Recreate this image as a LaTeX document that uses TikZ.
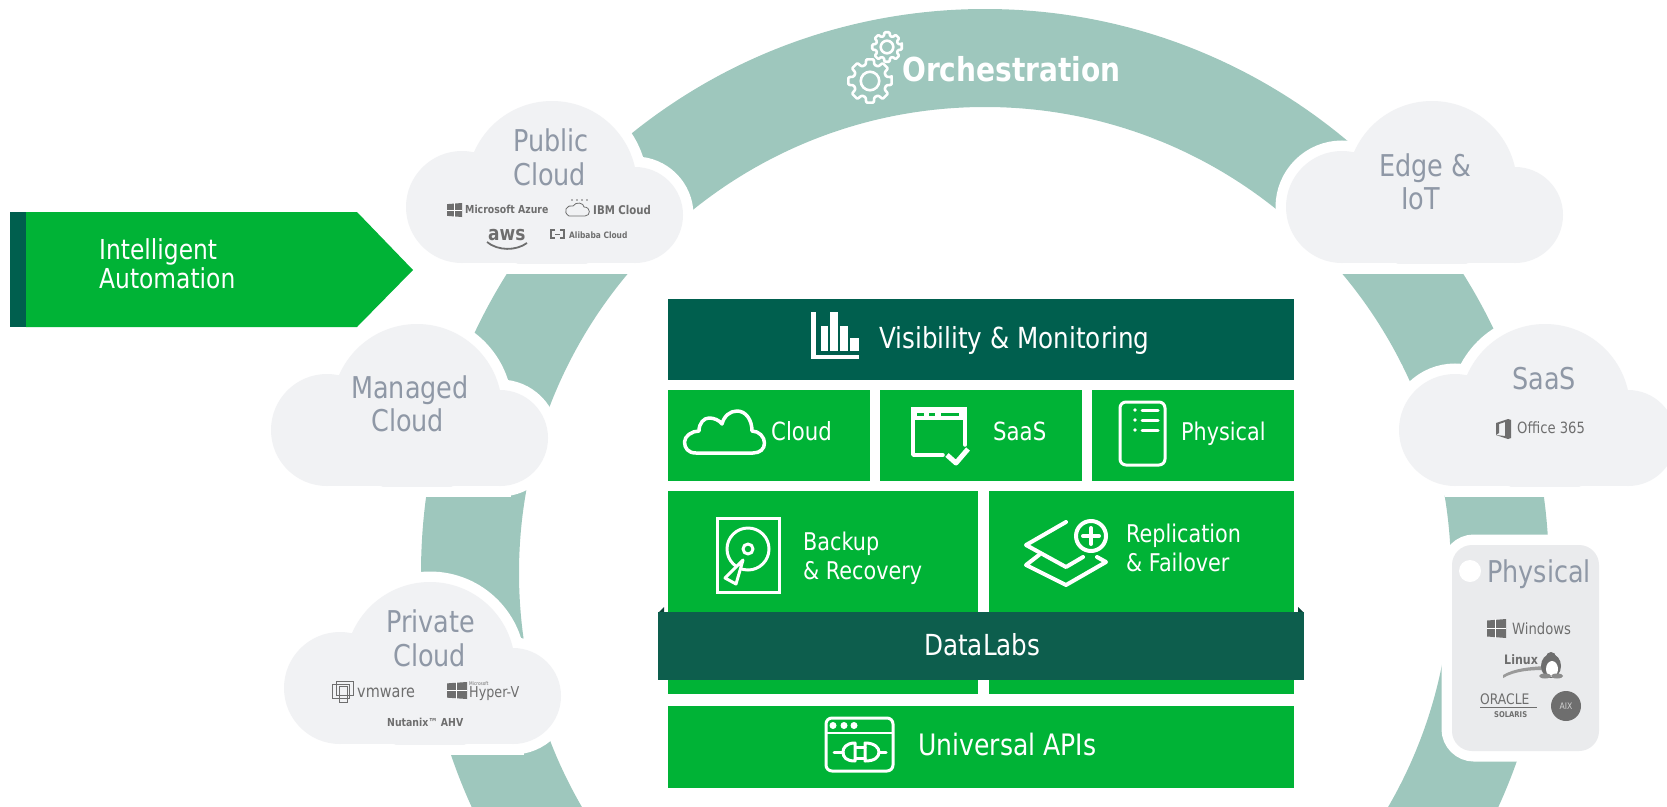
\documentclass[tikz,border=0pt]{standalone}
\usepackage{fontspec}
\setmainfont[FakeStretch=0.85]{DejaVu Sans}
\usetikzlibrary{positioning}

\definecolor{ringteal}{HTML}{9EC7BD}
\definecolor{cloudgray}{HTML}{F1F2F4}
\definecolor{cloudtext}{HTML}{8F98A6}
\definecolor{logogray}{HTML}{6E6E6E}
\definecolor{vbgreen}{HTML}{00B336}
\definecolor{vbdark}{HTML}{005F4E}
\definecolor{labdark}{HTML}{0D5E4D}

\tikzset{
  panel/.style={fill=vbgreen},
  darkpanel/.style={fill=vbdark},
  iconline/.style={draw=white, line width=3pt, line join=round, line cap=round},
  panellabel/.style={text=white, anchor=base west, inner sep=0pt, font=\fontsize{29}{29}\selectfont},
  boxlabel/.style={panellabel, font=\fontsize{24.4}{24.4}\selectfont},
  autolabel/.style={panellabel, font=\fontsize{27.5}{27.5}\selectfont},
  cloudlabel/.style={text=cloudtext, anchor=base west, inner sep=0pt, font=\fontsize{30}{30}\selectfont},
  logolabel/.style={text=logogray, anchor=base west, inner sep=0pt, font=\fontsize{11}{11}\selectfont\bfseries},
  halo/.style={draw=white, fill=white, line width=21pt},
}

\newcommand{\cloudbumps}[1]{%
  \path[#1] (56,-56) circle[radius=56];
  \path[#1] (146,-77) circle[radius=85];
  \path[#1] (229,-48) circle[radius=48];
  \path[#1] (56,-40) rectangle (229,0);}

\newcommand{\cloudblob}[2]{%
  \begin{scope}[shift={(#1,#2)}]
    \begin{scope}
      \clip (-30,-200) rectangle (320,10.5);
      \cloudbumps{halo}
    \end{scope}
    \begin{scope}
      \clip (-30,-200) rectangle (320,0);
      \cloudbumps{fill=cloudgray}
    \end{scope}
  \end{scope}}

\newcommand{\gearicon}[3]{%
  \draw[iconline, line width=2.6pt, rounded corners=1pt, shift={(#1,#2)}]
    (-10:#3) \foreach \a in {0,45,...,315} {
      -- ({\a+10}:#3) -- ({\a+15}:{0.76*#3}) -- ({\a+30}:{0.76*#3}) -- ({\a+35}:#3)
    } -- cycle;
  \draw[iconline, line width=2.6pt] (#1,#2) circle[radius={0.42*#3}];}

\newcommand{\wintile}[4]{%
  \fill[logogray] (#1,{#2+0.08*#4}) -- ({#1+#3},#2) -- ({#1+#3},{#2+#4}) -- (#1,{#2+0.92*#4}) -- cycle;
  \draw[white, line width=0.5pt] ({#1+0.45*#3},#2) -- ({#1+0.45*#3},{#2+#4});
  \draw[white, line width=0.5pt] (#1,{#2+0.5*#4}) -- ({#1+#3},{#2+0.5*#4});}

\begin{document}
\begin{tikzpicture}[x=1pt,y=-1pt]
  \useasboundingbox (0,0) rectangle (1667,806);

  \begin{scope}
    \clip (0,0) rectangle (1667,806);
    \fill[ringteal, even odd rule] (985,573) circle[radius=564] (985,573) circle[radius=466];
  \end{scope}

  \node[text=white, anchor=base west, inner sep=0pt, font=\fontsize{33}{33}\selectfont\bfseries] (orch) at (902,81) {Orchestration};
  \gearicon{870}{81}{22}
  \gearicon{887}{47}{15}

  \cloudblob{406}{263}
  \cloudblob{271}{486}
  \cloudblob{284}{744}
  \cloudblob{1286}{263}
  \cloudblob{1399}{486}

  \path[halo, rounded corners=22pt] (1452,545) rectangle (1599,751);
  \fill[cloudgray!97!black, rounded corners=20pt] (1452,545) rectangle (1599,751);
  \fill[white] (1470,571) circle[radius=11];

  \fill[vbgreen] (26,212) -- (357,212) -- (413,270) -- (357,327) -- (26,327) -- cycle;
  \fill[vbdark] (10,212) rectangle (26,327);
  \node[autolabel] (auto1) at (99,259) {Intelligent};
  \node[autolabel] (auto2) at (99,288) {Automation};

  % public cloud
  \node[cloudlabel] (pub1) at (513,151) {Public};
  \node[cloudlabel] (pub2) at (513,185) {Cloud};
  \wintile{447}{203}{15}{14}
  \node[logolabel] (azure) at (465,213) {Microsoft Azure};
  \draw[logogray, line width=0.8pt] (569,216) .. controls (562,212) and (567,204) .. (573,206) .. controls (576,201) and (584,203) .. (584,207) .. controls (591,207) and (591,216) .. (585,216) -- cycle;
  \foreach \a in {572,577,582,587} {\fill[logogray] (\a,200) circle[radius=0.9];}
  \node[logolabel, font=\fontsize{12}{12}\selectfont\bfseries] (ibm) at (593,214) {IBM Cloud};
  \node[logolabel, font=\fontsize{20}{20}\selectfont\bfseries] (aws) at (488,240) {aws};
  \draw[logogray, line width=1.8pt] (487,242) .. controls (498,251) and (516,251) .. (527,243);
  \draw[logogray, line width=2pt] (555,230) -- (551,230) -- (551,238) -- (555,238);
  \draw[logogray, line width=2pt] (560,230) -- (564,230) -- (564,238) -- (560,238);
  \draw[logogray, line width=1pt] (555,234) -- (560,234);
  \node[logolabel, font=\fontsize{8.8}{8.8}\selectfont\bfseries] (ali) at (569,238) {Alibaba Cloud};

  % managed cloud
  \node[cloudlabel] (man1) at (351,398) {Managed};
  \node[cloudlabel] (man2) at (371,431) {Cloud};

  % private cloud
  \node[cloudlabel] (pri1) at (386,632) {Private};
  \node[cloudlabel] (pri2) at (393,666) {Cloud};
  \draw[logogray, line width=0.8pt] (332,684) rectangle (349,698);
  \draw[logogray, line width=0.8pt] (336,681) rectangle (353,695);
  \draw[logogray, line width=0.8pt] (339,686) rectangle (347,702);
  \node[logolabel, font=\fontsize{17}{17}\selectfont] (vmw) at (357,697) {vmware};
  \wintile{447}{682}{20}{17}
  \node[logolabel, font=\fontsize{5}{5}\selectfont] (hyp1) at (469,685) {Microsoft};
  \node[logolabel, font=\fontsize{15}{15}\selectfont\mdseries] (hyp2) at (469,697) {Hyper-V};
  \node[logolabel] (nut) at (387,726) {Nutanix™ AHV};

  % edge
  \node[cloudlabel] (edge1) at (1379,176) {Edge \&};
  \node[cloudlabel] (edge2) at (1401,209) {IoT};

  % saas
  \node[cloudlabel] (saas1) at (1512,389) {SaaS};
  \fill[logogray] (1496,423) -- (1508,419) -- (1511,420) -- (1511,438) -- (1508,439) -- (1496,435) -- (1505,436) -- (1505,422) -- (1499,424) -- (1499,433) -- (1496,435) -- cycle;
  \node[logolabel, font=\fontsize{15.5}{15.5}\selectfont\mdseries] (off) at (1517,433) {Office 365};

  % physical
  \node[cloudlabel] (phy1) at (1487,582) {Physical};
  \wintile{1487}{619}{19}{19}
  \node[logolabel, font=\fontsize{15.5}{15.5}\selectfont\mdseries] (win) at (1512,634) {Windows};
  \node[logolabel, font=\fontsize{13}{13}\selectfont\rmfamily\bfseries] (lin) at (1504,664) {Linux};
  \fill[logogray!70] (1503,675) .. controls (1515,668) and (1530,667) .. (1545,666) -- (1545,670) .. controls (1530,670) and (1515,671) .. (1503,678) -- cycle;
  \fill[logogray] (1551,666) ellipse[x radius=10, y radius=12];
  \fill[logogray] (1551,657) circle[radius=5];
  \fill[white] (1552,669) ellipse[x radius=6, y radius=8];
  \fill[logogray!80] (1545,676) ellipse[x radius=6, y radius=2.5];
  \fill[logogray!80] (1557,676) ellipse[x radius=6, y radius=2.5];
  \node[logolabel, font=\fontsize{14.5}{14.5}\selectfont\mdseries] (ora) at (1480,704) {ORACLE};
  \draw[logogray, line width=0.7pt] (1480,707) -- (1537,707);
  \node[logolabel, font=\fontsize{8}{8}\selectfont\bfseries] (sol) at (1494,717) {SOLARIS};
  \fill[logogray] (1566,706) circle[radius=15];
  \node[text=white!70!logogray, inner sep=0pt, font=\fontsize{9}{9}\selectfont] (aix) at (1566,706) {AIX};

  % stack
  \fill[darkpanel] (668,299) rectangle (1294,380);
  \fill[panel] (668,390) rectangle (870,481);
  \fill[panel] (880,390) rectangle (1082,481);
  \fill[panel] (1092,390) rectangle (1294,481);
  \fill[panel] (668,491) rectangle (978,694);
  \fill[panel] (989,491) rectangle (1294,694);
  \fill[panel] (668,706) rectangle (1294,788);
  \fill[labdark!70!black] (658,613) -- (664,607) -- (664,613) -- cycle;
  \fill[labdark!70!black] (1304,613) -- (1298,607) -- (1298,613) -- cycle;
  \fill[labdark] (658,612) rectangle (1304,680);

  % visibility
  \fill[white] (811,312) rectangle (816,359);
  \fill[white] (811,355) rectangle (859,359);
  \fill[white] (820.5,326) rectangle (828,351);
  \fill[white] (830,312) rectangle (838,351);
  \fill[white] (840,326) rectangle (848,351);
  \fill[white] (850,338) rectangle (859,351);
  \node[panellabel] (vis) at (879,348) {Visibility \& Monitoring};

  % cloud icon
  \draw[iconline, line width=3.5pt] (696,453) .. controls (688,453) and (684.5,448) .. (684.5,442) .. controls (684.5,436) and (692,431) .. (699,431) .. controls (699,423) and (704,418) .. (709,418) .. controls (714,418) and (719,420) .. (722,424) .. controls (724,416) and (730,411) .. (737,411) .. controls (746,411) and (752,420) .. (752,431) .. controls (759,431) and (764.5,437) .. (764.5,443) .. controls (764.5,449) and (760,453) .. (753,453) -- cycle;
  \node[boxlabel, font=\fontsize{25}{25}\selectfont] (cld) at (771,440) {Cloud};

  % window icon
  \draw[iconline, line width=3.5pt] (965,445) -- (965,409) -- (913,409) -- (913,455) -- (943,455);
  \fill[white] (911,407) rectangle (967,420);
  \fill[vbgreen] (917,413) rectangle (924,416);
  \fill[vbgreen] (929,413) rectangle (935,416);
  \fill[vbgreen] (941,413) rectangle (959,416);
  \draw[iconline, line width=5pt, line cap=butt] (947,455) -- (956,463) -- (968,449);
  \node[boxlabel, font=\fontsize{25}{25}\selectfont] (saas2) at (993,440) {SaaS};

  % server icon
  \draw[iconline, rounded corners=6pt] (1120,402) rectangle (1165,465);
  \foreach \y in {410,420,430} {
    \fill[white] (1135,\y) circle[radius=1.8];
    \draw[iconline] (1142,\y) -- (1158,\y);
  }
  \node[boxlabel] (phy2) at (1181,440) {Physical};

  % disk icon
  \draw[iconline, line cap=butt, line join=miter] (717,518) rectangle (779,592);
  \draw[iconline] (748,549) circle[radius=21];
  \draw[iconline] (748,549) circle[radius=5];
  \draw[iconline, fill=vbgreen] (743,560) -- (725,578) -- (736,584) -- cycle;
  \node[boxlabel] (bak1) at (803,550) {Backup};
  \node[boxlabel] (bak2) at (803,579) {\& Recovery};

  % layers icon
  \draw[iconline, line width=4pt] (1066,522) -- (1026,545) -- (1066,567) -- (1083,557);
  \draw[iconline, line width=4pt] (1039,555) -- (1026,565) -- (1066,585) -- (1106,562) -- (1097,557);
  \draw[iconline, line width=4pt] (1091,536) circle[radius=15];
  \draw[iconline, line width=4pt] (1083,536) -- (1099,536);
  \draw[iconline, line width=4pt] (1091,528) -- (1091,544);
  \node[boxlabel] (rep1) at (1126,542) {Replication};
  \node[boxlabel] (rep2) at (1126,571) {\& Failover};

  \node[panellabel] (labs) at (924,655) {DataLabs};

  % api icon
  \draw[iconline, rounded corners=6pt] (826,718) rectangle (893,771);
  \draw[iconline, line width=2pt] (826,733) -- (893,733);
  \foreach \x in {833,844,854} {\fill[white] (\x,725.5) circle[radius=3.5];}
  \draw[iconline] (834,752) -- (843,752);
  \draw[iconline] (855,743) .. controls (846,743) and (843,748) .. (843,752) .. controls (843,757) and (846,761) .. (855,761) -- cycle;
  \draw[iconline] (856,747) -- (865,747);
  \draw[iconline] (856,758) -- (865,758);
  \draw[iconline] (865,743) .. controls (875,743) and (879,748) .. (879,752) .. controls (879,757) and (875,761) .. (865,761) -- cycle;
  \draw[iconline] (879,752) -- (886,752);
  \node[panellabel, font=\fontsize{29.5}{29.5}\selectfont] (api) at (918,755) {Universal APIs};
\end{tikzpicture}
\end{document}
